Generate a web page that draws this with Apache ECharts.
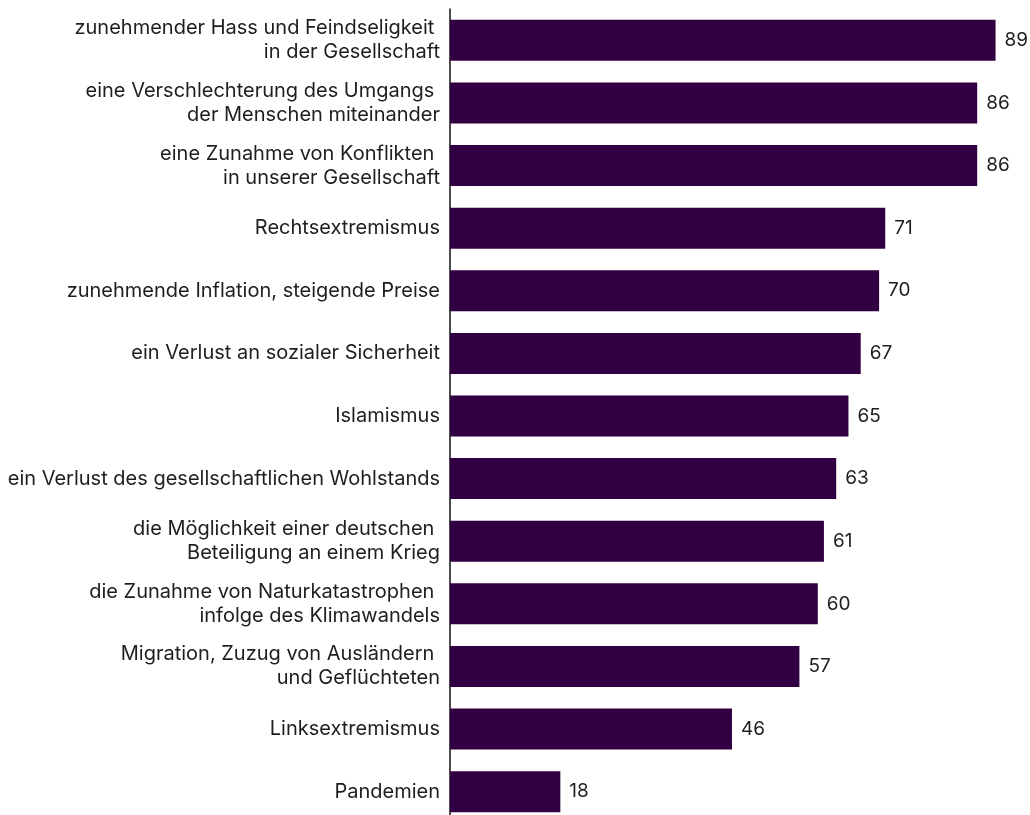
<!DOCTYPE html>
<html>
<head>
<meta charset="utf-8">
<script src="https://cdn.jsdelivr.net/npm/echarts@6/dist/echarts.min.js"></script>
<style>
  html, body { margin: 0; padding: 0; background: #ffffff; }
  #chart { width: 1030px; height: 815px; }
</style>
</head>
<body>
<div id="chart"></div>
<script>
// Sorgen in der Bevölkerung (Anteil in %)
const categories = [
  'zunehmender Hass und Feindseligkeit \nin der Gesellschaft',
  'eine Verschlechterung des Umgangs \nder Menschen miteinander',
  'eine Zunahme von Konflikten \nin unserer Gesellschaft',
  'Rechtsextremismus',
  'zunehmende Inflation, steigende Preise',
  'ein Verlust an sozialer Sicherheit',
  'Islamismus',
  'ein Verlust des gesellschaftlichen Wohlstands',
  'die Möglichkeit einer deutschen \nBeteiligung an einem Krieg',
  'die Zunahme von Naturkatastrophen \ninfolge des Klimawandels',
  'Migration, Zuzug von Ausländern \nund Geflüchteten',
  'Linksextremismus',
  'Pandemien'
];
const values = [89, 86, 86, 71, 70, 67, 65, 63, 61, 60, 57, 46, 18];

const chart = echarts.init(document.getElementById('chart'), null, { renderer: 'canvas' });
const font = 'Inter';

chart.setOption({
  animation: false,
  backgroundColor: '#ffffff',
  // plot area runs slightly past the canvas edges on the right and bottom
  grid: {
    left: 450, right: -33, top: 9, bottom: -8,
    containLabel: false,
    outerBoundsMode: 'none'
  },
  xAxis: {
    type: 'value',
    min: 0,
    max: 100,
    show: false
  },
  yAxis: {
    type: 'category',
    data: categories,
    inverse: true,
    axisLine: { show: true, lineStyle: { color: '#111111', width: 1.5 } },
    axisTick: { show: false },
    splitLine: { show: false },
    axisLabel: {
      margin: 10,
      align: 'right',
      color: '#1e1e1e',
      fontFamily: font,
      fontSize: 20,
      lineHeight: 24,
      padding: [4, 0, 0, 0]
    }
  },
  series: [{
    type: 'bar',
    data: values,
    barWidth: 41,
    itemStyle: { color: '#320042' },
    label: {
      show: true,
      position: 'right',
      distance: 9,
      color: '#1e1e1e',
      fontFamily: font,
      fontSize: 19
    }
  }]
});
</script>
</body>
</html>
